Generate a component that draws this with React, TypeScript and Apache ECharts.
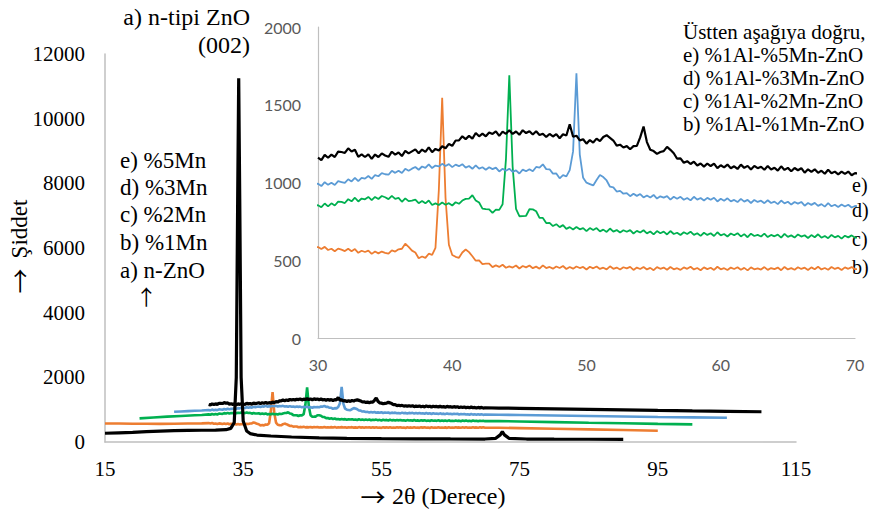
import React, { useEffect, useRef } from "react";
import * as echarts from "echarts";

// ---------- axes ----------
const mainXMin = 15;
const mainXMax = 115;
const mainXStep = 20;
const mainYMax = 12000;
const mainYStep = 2000;
const insetXMin = 30;
const insetXMax = 70;
const insetXStep = 10;
const insetYMax = 2000;
const insetYStep = 500;

// inset-range samples: 30° .. 70°, every 0.25°
const gridStart = 30;
const gridStep = 0.25;

// ---------- a) n-ZnO (main chart only) ----------
const aPairs: number[][] = [
  [15, 270], [17, 285], [19, 300], [21, 320], [23, 338], [25, 350], [27, 358], [29, 364], [31, 368],
  [32.5, 380], [33.2, 420], [33.7, 600], [34.0, 2000], [34.2, 7500], [34.35, 11250], [34.5, 7500],
  [34.7, 2000], [35.0, 650], [35.5, 340], [36, 260], [37, 215], [39, 185], [42, 155], [46, 130],
  [50, 115], [55, 105], [60, 98], [65, 94], [70, 92], [71.5, 110], [72.2, 220], [72.5, 320],
  [72.8, 220], [73.5, 110], [76, 92], [80, 88], [85, 85], [90, 82],
];

// ---------- b) %1Al-%1Mn-ZnO ----------
const bLow: number[][] = [[15, 574], [17, 570], [19, 566], [21, 563], [23, 561], [25, 564], [27, 570], [29, 576]];
const bInset: number[] = [
  585, 572, 586, 566, 574, 558, 575, 568, 559, 574, 558, 572, 548, 561, 553, 562, 541, 556, 544, 556,
  548, 542, 563, 556, 570, 574, 606, 586, 562, 550, 513, 524, 515, 542, 535, 580, 950, 1545, 900, 600,
  534, 522, 516, 550, 569, 552, 526, 497, 499, 475, 478, 478, 456, 467, 457, 471, 452, 461, 453, 466,
  447, 463, 454, 466, 449, 459, 446, 467, 450, 457, 446, 460, 450, 463, 444, 457, 446, 460, 450, 457,
  441, 458, 448, 460, 444, 452, 441, 461, 445, 453, 441, 455, 448, 457, 438, 453, 444, 457, 441, 451,
  436, 456, 445, 453, 439, 457, 442, 449, 438, 454, 445, 458, 441, 450, 436, 454, 443, 452, 438, 458,
  442, 449, 437, 453, 444, 455, 439, 451, 435, 454, 442, 448, 440, 456, 438, 450, 443, 453, 436, 457,
  441, 449, 439, 455, 444, 452, 437, 454, 442, 458, 441, 450, 439, 457, 444, 452, 437, 454, 445, 456,
  443,
];
const bHigh: number[][] = [[72, 440], [75, 430], [80, 412], [85, 392], [90, 370], [95, 350]];

// ---------- c) %1Al-%2Mn-ZnO ----------
const cLow: number[][] = [[20, 730], [22, 760], [24, 785], [26, 805], [28, 825], [29, 835]];
const cInset: number[] = [
  854, 841, 865, 846, 866, 852, 877, 875, 868, 893, 879, 902, 878, 897, 892, 907, 887, 907, 894, 913,
  905, 893, 914, 895, 901, 876, 898, 880, 883, 890, 867, 881, 866, 884, 855, 866, 855, 871, 857, 867,
  852, 873, 863, 884, 895, 896, 918, 885, 871, 832, 829, 827, 804, 825, 824, 860, 1150, 1690, 1100, 830,
  783, 784, 786, 828, 827, 815, 772, 772, 739, 741, 720, 732, 713, 726, 702, 713, 698, 714, 699, 707,
  687, 707, 694, 707, 686, 697, 682, 704, 684, 694, 678, 693, 683, 694, 672, 689, 678, 693, 673, 685,
  666, 688, 674, 684, 666, 688, 669, 677, 662, 680, 669, 684, 663, 674, 657, 677, 663, 674, 656, 680,
  660, 669, 653, 672, 661, 674, 653, 668, 648, 671, 656, 663, 653, 671, 649, 663, 654, 665, 645, 670,
  650, 660, 646, 666, 652, 661, 643, 662, 648, 667, 645, 656, 642, 663, 647, 657, 639, 658, 647, 660,
  645,
];
const cHigh: number[][] = [[72, 645], [75, 635], [80, 615], [85, 595], [90, 578], [95, 560], [100, 545]];

// ---------- d) %1Al-%3Mn-ZnO ----------
const dLow: number[][] = [[25, 935], [26, 945], [27, 955], [28, 965], [29, 975]];
const dInset: number[] = [
  992, 977, 1002, 985, 998, 984, 1009, 1003, 997, 1021, 1007, 1030, 1009, 1030, 1025, 1042, 1023, 1048, 1040, 1060,
  1053, 1050, 1075, 1062, 1076, 1061, 1088, 1076, 1089, 1100, 1082, 1103, 1094, 1116, 1093, 1109, 1103, 1120, 1106, 1118,
  1099, 1115, 1105, 1118, 1096, 1106, 1088, 1110, 1089, 1098, 1082, 1098, 1086, 1096, 1071, 1088, 1075, 1089, 1068, 1078,
  1058, 1083, 1072, 1085, 1072, 1100, 1095, 1117, 1086, 1085, 1057, 1058, 1027, 1047, 1039, 1080, 1200, 1702, 1180, 1030,
  999, 990, 981, 1016, 1048, 1035, 1013, 973, 969, 942, 946, 928, 932, 912, 928, 914, 926, 904, 916, 904,
  920, 897, 911, 903, 912, 890, 908, 896, 908, 889, 900, 885, 908, 890, 900, 884, 901, 889, 902, 878,
  895, 883, 898, 879, 888, 874, 895, 877, 888, 868, 888, 875, 883, 867, 886, 868, 877, 861, 884, 866,
  876, 858, 875, 864, 875, 851, 868, 856, 869, 850, 861, 845, 867, 847, 857, 842, 858, 846, 857, 839,
  849,
];
const dHigh: number[][] = [[72, 842], [75, 835], [80, 820], [85, 805], [90, 790], [95, 775], [100, 762], [105, 750]];

// ---------- e) %1Al-%5Mn-ZnO ----------
const eInset: number[] = [
  1160, 1144, 1178, 1159, 1179, 1164, 1199, 1196, 1190, 1220, 1199, 1210, 1165, 1181, 1164, 1181, 1152, 1180, 1164, 1187,
  1174, 1165, 1198, 1179, 1193, 1170, 1203, 1187, 1200, 1213, 1188, 1212, 1197, 1226, 1195, 1216, 1206, 1233, 1220, 1248,
  1236, 1270, 1271, 1297, 1279, 1300, 1282, 1318, 1297, 1314, 1297, 1322, 1312, 1329, 1300, 1327, 1313, 1336, 1312, 1328,
  1307, 1336, 1318, 1330, 1309, 1330, 1305, 1314, 1293, 1312, 1296, 1311, 1285, 1310, 1302, 1375, 1294, 1301, 1271, 1278,
  1250, 1273, 1257, 1282, 1266, 1293, 1304, 1287, 1270, 1237, 1243, 1225, 1234, 1214, 1234, 1235, 1290, 1360, 1260, 1211,
  1202, 1184, 1196, 1202, 1229, 1210, 1188, 1153, 1155, 1127, 1137, 1119, 1134, 1109, 1122, 1102, 1122, 1106, 1121, 1092,
  1111, 1097, 1115, 1092, 1104, 1087, 1115, 1094, 1107, 1083, 1107, 1092, 1101, 1082, 1106, 1084, 1095, 1076, 1104, 1081,
  1094, 1072, 1093, 1079, 1092, 1063, 1085, 1069, 1085, 1062, 1076, 1056, 1082, 1059, 1070, 1052, 1070, 1055, 1070, 1047,
  1060,
];
const eHigh: number[][] = [[72, 1050], [75, 1042], [80, 1025], [85, 1010], [90, 995], [95, 978], [100, 962], [105, 948], [110, 935]];

const COLORS = { a: "#000000", b: "#ED7D31", c: "#00B050", d: "#5B9BD5", e: "#000000" };

const leftLabels = ["e) %5Mn", "d) %3Mn", "c) %2Mn", "b) %1Mn", "a) n-ZnO"];
const legendLines = [
  "Üstten aşağıya doğru,",
  "e) %1Al-%5Mn-ZnO",
  "d) %1Al-%3Mn-ZnO",
  "c) %1Al-%2Mn-ZnO",
  "b) %1Al-%1Mn-ZnO",
];
const endLabels = ["e)", "d)", "c)", "b)"];

const SERIF = "'Liberation Serif', 'Times New Roman', serif";
const SANS = "Lato, 'Liberation Sans', sans-serif";
const ARROW = "'Noto Sans CJK JP', 'DejaVu Sans', sans-serif";

function build(low: number[][], inset: number[], high: number[][]): number[][] {
  return [...low, ...inset.map((v, i) => [gridStart + i * gridStep, v]), ...high];
}

export default function App() {
  const ref = useRef<HTMLDivElement>(null);
  useEffect(() => {
    document.body.style.margin = "0";
    if (!ref.current) return;
    const chart = echarts.init(ref.current, undefined, { renderer: "svg" });

    const bData = build(bLow, bInset, bHigh);
    const cData = build(cLow, cInset, cHigh);
    const dData = build(dLow, dInset, dHigh);
    const eData = build([], eInset, eHigh);
    const shift = (arr: number[][]) => arr.map((p) => [p[0] - mainXMin, p[1]]);

    const mainSeries = [
      { key: "b", data: bData, w: 2.6 },
      { key: "c", data: cData, w: 2.6 },
      { key: "d", data: dData, w: 2.6 },
      { key: "e", data: eData, w: 3.2 },
      { key: "a", data: aPairs, w: 3.2 },
    ].map((s) => ({
      type: "line",
      xAxisIndex: 0,
      yAxisIndex: 0,
      data: shift(s.data),
      showSymbol: false,
      symbol: "none",
      silent: true,
      lineStyle: { color: (COLORS as any)[s.key], width: s.w },
      itemStyle: { color: (COLORS as any)[s.key] },
    }));

    const insetSeries = [
      { key: "b", data: bData, w: 1.8 },
      { key: "c", data: cData, w: 1.8 },
      { key: "d", data: dData, w: 1.8 },
      { key: "e", data: eData, w: 2.2 },
    ].map((s) => ({
      type: "line",
      xAxisIndex: 1,
      yAxisIndex: 1,
      data: s.data,
      showSymbol: false,
      symbol: "none",
      silent: true,
      clip: true,
      lineStyle: { color: (COLORS as any)[s.key], width: s.w },
      itemStyle: { color: (COLORS as any)[s.key] },
    }));

    const txt = (
      text: string,
      x: number,
      y: number,
      size: number,
      align = "left",
      extra: any = {},
      family = SERIF
    ) => ({
      type: "text",
      x,
      y,
      silent: true,
      ...extra,
      style: {
        text,
        fontFamily: family,
        fontSize: size,
        lineHeight: size,
        fill: "#000",
        align,
        verticalAlign: "middle",
      },
    });

    const graphics: any[] = [
      txt("a) n-tipi ZnO", 250, 17, 24, "right"),
      txt("(002)", 250, 45, 24, "right"),
      ...leftLabels.map((t, i) => txt(t, 120, [160, 187, 214, 242, 270][i], 23)),
      txt("→", 145, 297, 21, "center", { rotation: Math.PI / 2 }, ARROW),
      ...legendLines.map((t, i) => txt(t, 683, [32, 55, 78, 101, 124][i], 21)),
      ...endLabels.map((t, i) => txt(t, 852, [185, 210, 239, 267][i], 20)),
      txt("→", 373, 496, 25, "center", {}, ARROW),
      txt("2θ (Derece)", 392, 496, 24, "left"),
      txt("Şiddet", 19, 229, 23, "center", { rotation: Math.PI / 2 }),
      txt("→", 19, 281, 25, "center", { rotation: Math.PI / 2 }, ARROW),
    ];

    chart.setOption({
      animation: false,
      backgroundColor: "#ffffff",
      grid: [
        { left: 105, top: 54, width: 691, height: 388 },
        { left: 318, top: 27, width: 537, height: 311 },
      ],
      xAxis: [
        {
          gridIndex: 0,
          type: "value",
          min: 0,
          max: mainXMax - mainXMin,
          interval: mainXStep,
          axisLabel: {
            formatter: (v: number) => String(v + mainXMin),
            fontFamily: SERIF,
            fontSize: 21,
            color: "#000",
            margin: 16,
          },
          axisLine: { show: true, lineStyle: { color: "#bfbfbf", width: 1.5 } },
          axisTick: { show: false },
          splitLine: { show: false },
        },
        {
          gridIndex: 1,
          type: "value",
          min: insetXMin,
          max: insetXMax,
          interval: insetXStep,
          axisLabel: { formatter: (v: number) => String(v), fontFamily: SANS, fontSize: 16, color: "#595959", margin: 18 },
          axisLine: { show: true, lineStyle: { color: "#bfbfbf", width: 1.2 } },
          axisTick: { show: false },
          splitLine: { show: false },
        },
      ],
      yAxis: [
        {
          gridIndex: 0,
          type: "value",
          min: 0,
          max: mainYMax,
          interval: mainYStep,
          axisLabel: { formatter: (v: number) => String(v), fontFamily: SERIF, fontSize: 21, color: "#000", margin: 20 },
          axisLine: { show: true, lineStyle: { color: "#bfbfbf", width: 1.5 } },
          axisTick: { show: false },
          splitLine: { show: false },
        },
        {
          gridIndex: 1,
          type: "value",
          min: 0,
          max: insetYMax,
          interval: insetYStep,
          axisLabel: { formatter: (v: number) => String(v), fontFamily: SANS, fontSize: 16, color: "#595959", margin: 17 },
          axisLine: { show: true, lineStyle: { color: "#bfbfbf", width: 1.2 } },
          axisTick: { show: false },
          splitLine: { show: false },
        },
      ],
      series: [...mainSeries, ...insetSeries],
      graphic: graphics,
    });

    return () => chart.dispose();
  }, []);

  return <div ref={ref} style={{ width: 870, height: 513 }} />;
}
